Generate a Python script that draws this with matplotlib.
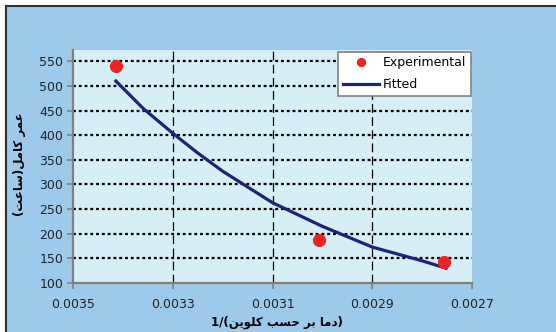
import matplotlib
matplotlib.use("Agg")
import matplotlib.pyplot as plt
from matplotlib.patches import Rectangle

# ---------------- data ----------------
exp_x = [0.003414, 0.003007, 0.002757]
exp_y = [540, 187, 142]
fit_x = [0.003414, 0.00336, 0.0033, 0.00325, 0.0032, 0.0031, 0.0030, 0.0029, 0.0028, 0.002752]
fit_y = [510, 455, 404, 364, 327, 263, 215, 173, 145, 130]
x_ticks = [0.0035, 0.0033, 0.0031, 0.0029, 0.0027]
x_tick_labels = ["0.0035", "0.0033", "0.0031", "0.0029", "0.0027"]
y_ticks = [100, 150, 200, 250, 300, 350, 400, 450, 500, 550]
legend_labels = ["Experimental", "Fitted"]
ylabel_text = "عمر کامل(ساعت)"
xlabel_prefix = "1/("
xlabel_text = "دما بر حسب کلوین"
xlabel_suffix = ")"

# ------------- simple Arabic/Persian shaping (presentation forms) -------------
FORMS = {  # isolated, final, initial, medial
    'ا': ('\uFE8D', '\uFE8E', None, None),
    'ب': ('\uFE8F', '\uFE90', '\uFE91', '\uFE92'),
    'ت': ('\uFE95', '\uFE96', '\uFE97', '\uFE98'),
    'ح': ('\uFEA1', '\uFEA2', '\uFEA3', '\uFEA4'),
    'د': ('\uFEA9', '\uFEAA', None, None),
    'ر': ('\uFEAD', '\uFEAE', None, None),
    'س': ('\uFEB1', '\uFEB2', '\uFEB3', '\uFEB4'),
    'ع': ('\uFEC9', '\uFECA', '\uFECB', '\uFECC'),
    'ل': ('\uFEDD', '\uFEDE', '\uFEDF', '\uFEE0'),
    'م': ('\uFEE1', '\uFEE2', '\uFEE3', '\uFEE4'),
    'ن': ('\uFEE5', '\uFEE6', '\uFEE7', '\uFEE8'),
    'و': ('\uFEED', '\uFEEE', None, None),
    'ک': ('\uFB8E', '\uFB8F', '\uFB90', '\uFB91'),
    'ی': ('\uFBFC', '\uFBFD', '\uFBFE', '\uFBFF'),
}
MIRROR = {'(': ')', ')': '('}


def shape(s):
    out = []
    for i, ch in enumerate(s):
        if ch not in FORMS:
            out.append(ch)
            continue
        prev = s[i - 1] if i > 0 else ''
        nxt = s[i + 1] if i + 1 < len(s) else ''
        jp = prev in FORMS and FORMS[prev][2] is not None
        jn = FORMS[ch][2] is not None and nxt in FORMS
        iso, fin, ini, med = FORMS[ch]
        if jp and jn:
            out.append(med)
        elif jp:
            out.append(fin)
        elif jn:
            out.append(ini)
        else:
            out.append(iso)
    return out


def rtl(s):
    return ''.join(MIRROR.get(c, c) for c in reversed(shape(s)))


# ---------------- figure ----------------
W, H = 556, 332
fig = plt.figure(figsize=(W / 100, H / 100), dpi=100, facecolor='white')
bg = '#9DC9EA'
fig.patches.append(Rectangle((5.5 / W, -0.1), 1.2, 1 - 6.5 / H + 0.1,
                             transform=fig.transFigure, facecolor=bg,
                             edgecolor='#303030', linewidth=1.5, zorder=-10))

ax = fig.add_axes([73 / W, 1 - 283 / H, (472 - 73) / W, (283 - 50) / H])
ax.set_zorder(5)
ax.set_facecolor('#D6EEF5')

ax.set_xlim(0.0035, 0.0027)
ax.set_ylim(100, 573)

for y in y_ticks[1:]:
    ax.axhline(y, color='black', linestyle=(0, (1.3, 1.3)), linewidth=1.6, zorder=1)
for x in x_ticks[1:-1]:
    ax.axvline(x, color='black', linestyle=(0, (7, 3.5)), linewidth=0.9, zorder=1)

ax.plot(fit_x, fit_y, color='#1F2375', linewidth=2.3, label=legend_labels[1], zorder=3)
ax.plot(exp_x, exp_y, linestyle='none', marker='o', markersize=9.5,
        color='#EE2222', markeredgewidth=0, label=legend_labels[0], zorder=4)

ax.set_xticks(x_ticks)
ax.set_xticklabels(x_tick_labels)
ax.set_yticks(y_ticks)
ax.tick_params(axis='both', direction='out', length=4, width=1.2, color='#808080',
               labelsize=9, labelcolor='#222222', pad=3)
ax.tick_params(axis='x', pad=7)

for side in ('top', 'right'):
    ax.spines[side].set_visible(False)
for side in ('left', 'bottom'):
    ax.spines[side].set_color('#808080')
    ax.spines[side].set_linewidth(1.6)

h, l = ax.get_legend_handles_labels()
leg = ax.legend([h[1], h[0]], [l[1], l[0]], loc='upper right',
                bbox_to_anchor=(1 - 1 / 399, 1 - 2 / 233), fontsize=9,
                frameon=True, fancybox=False, borderpad=0.35, borderaxespad=0,
                handlelength=2.9, handletextpad=0.35, labelspacing=0.7,
                markerscale=0.7)
leg.get_frame().set_edgecolor('#808080')
leg.get_frame().set_linewidth(1.2)
leg.get_frame().set_facecolor('white')
leg.get_frame().set_alpha(1)

fig.text(20 / W, 1 - 164 / H, rtl(ylabel_text), rotation=90, ha='center', va='center',
         fontsize=8.5, fontweight='bold', family=['DejaVu Sans'], color='black')
fig.text(277 / W, 1 - 322 / H, xlabel_prefix + rtl(xlabel_text) + xlabel_suffix,
         ha='center', va='center', fontsize=8.5, fontweight='bold',
         family=['DejaVu Sans'], color='black')

fig.savefig('out.png', dpi=100, facecolor=fig.get_facecolor())
